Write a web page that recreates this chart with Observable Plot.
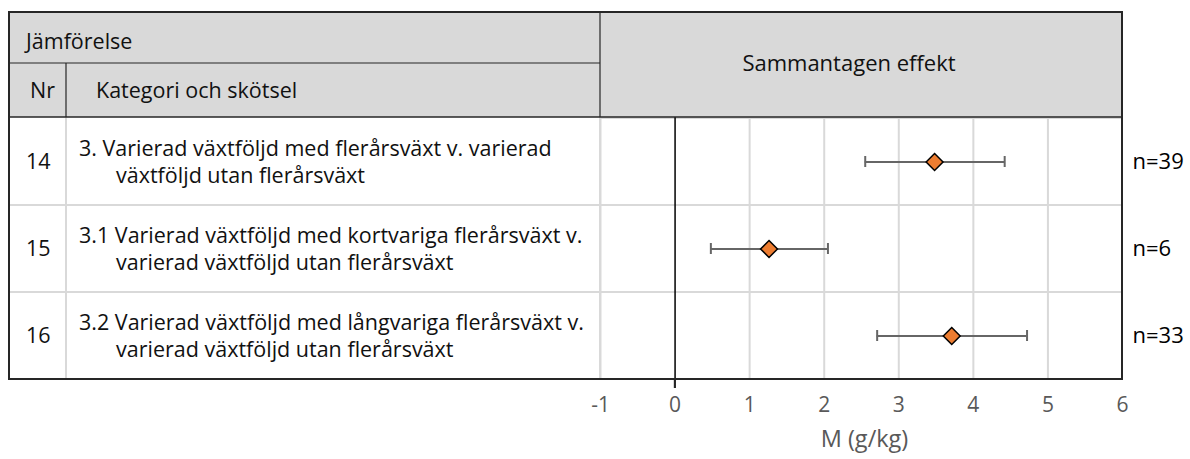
<!DOCTYPE html>
<html><head><meta charset="utf-8">
<script src="https://cdn.jsdelivr.net/npm/d3@7"></script>
<script src="https://cdn.jsdelivr.net/npm/@observablehq/plot@0.6"></script>
<style>
body{margin:0;background:#fff;}
#chart svg{font-family:"Open Sans",sans-serif;overflow:visible;}
</style></head><body><div id="chart"></div>
<script>
const nr = ["14", "15", "16"];
const categoryLine1 = [
  "3. Varierad växtföljd med flerårsväxt v. varierad",
  "3.1 Varierad växtföljd med kortvariga flerårsväxt v.",
  "3.2 Varierad växtföljd med långvariga flerårsväxt v."
];
const categoryLine2 = [
  "växtföljd utan flerårsväxt",
  "varierad växtföljd utan flerårsväxt",
  "varierad växtföljd utan flerårsväxt"
];
const estimate = [3.48, 1.26, 3.71];
const ciLow = [2.55, 0.48, 2.71];
const ciHigh = [4.42, 2.05, 4.72];
const nLabel = ["n=39", "n=6", "n=33"];
const xTicks = [-1, 0, 1, 2, 3, 4, 5, 6];
const headerGroup = "Jämförelse";
const headerNr = "Nr";
const headerCategory = "Kategori och skötsel";
const headerEffect = "Sammantagen effekt";
const xLabel = "M (g/kg)";

const rows = nr.map((n, i) => ({
  nr: n, line1: categoryLine1[i], line2: categoryLine2[i],
  est: estimate[i], lo: ciLow[i], hi: ciHigh[i], n: nLabel[i]
}));

const W = 1190, H = 459;
const mL = 600, mR = 68, mT = 117, mB = 80;
const tableLeft = 9, tableTop = 12, headerMid = 63, nrCol = 66;
const gridColor = "#d9d9d9", borderColor = "#262626";
const tableFont = 21.5;

const plot = Plot.plot({
  width: W, height: H,
  marginLeft: mL, marginRight: mR, marginTop: mT, marginBottom: mB,
  style: {fontFamily: "'Open Sans', sans-serif", fontSize: "21px", color: "#000"},
  x: {domain: [-1, 6], ticks: xTicks},
  y: {domain: nr, padding: 0, axis: null},
  marks: [
    Plot.gridX(xTicks.filter(d => d !== 0 && d !== 6), {stroke: gridColor, strokeOpacity: 1, strokeWidth: 2}),
    Plot.barX(rows, {x1: -1, x2: 6, y: "nr", fill: "none", stroke: gridColor, strokeWidth: 2}),
    Plot.ruleX([0], {stroke: "#000", strokeWidth: 1.5, insetBottom: -9}),
    Plot.ruleY(rows, {x1: "lo", x2: "hi", y: "nr", stroke: "#666", strokeWidth: 2}),
    Plot.tickX(rows, {x: "lo", y: "nr", stroke: "#666", strokeWidth: 2, insetTop: 38, insetBottom: 38}),
    Plot.tickX(rows, {x: "hi", y: "nr", stroke: "#666", strokeWidth: 2, insetTop: 38, insetBottom: 38}),
    Plot.dot(rows, {x: "est", y: "nr", symbol: "diamond2", r: 7.6, fill: "#ed7d31", stroke: "#000", strokeWidth: 1.5}),
    Plot.text(rows, {y: "nr", text: "n", frameAnchor: "right", dx: 10, textAnchor: "start", fontSize: 22, fill: "#000"}),
    Plot.axisX(xTicks, {tickSize: 0, tickPadding: 18, fontSize: 21, fill: "#595959", label: null, tickFormat: d => String(d)}),
    Plot.text([xLabel], {frameAnchor: "bottom", dy: 67, dx: 3, fontSize: 23.5, fill: "#595959"})
  ]
});
document.getElementById("chart").appendChild(plot);

// Left-hand table and header, positioned from the plot's own y scale
const svg = d3.select(plot);
const y = plot.scale("y");
const bw = y.bandwidth;
const yTop = mT, yBottom = H - mB, xRight = W - mR;
const g = svg.append("g").attr("font-family", "'Open Sans', sans-serif");

// header background
g.append("rect").attr("x", tableLeft).attr("y", tableTop)
  .attr("width", xRight - tableLeft).attr("height", yTop - tableTop)
  .attr("fill", "#d9d9d9");

// row dividers in the left table
nr.forEach((r, i) => {
  const y0 = y.apply(r);
  if (i > 0) g.append("line").attr("x1", tableLeft).attr("x2", mL).attr("y1", y0).attr("y2", y0)
    .attr("stroke", gridColor).attr("stroke-width", 2);
});
g.append("line").attr("x1", nrCol).attr("x2", nrCol).attr("y1", yTop).attr("y2", yBottom)
  .attr("stroke", gridColor).attr("stroke-width", 2);
g.append("line").attr("x1", mL).attr("x2", mL).attr("y1", yTop).attr("y2", yBottom)
  .attr("stroke", gridColor).attr("stroke-width", 2);

const dark = (x1, y1, x2, y2, w = 1.5) => g.append("line").attr("x1", x1).attr("y1", y1).attr("x2", x2).attr("y2", y2)
  .attr("stroke", borderColor).attr("stroke-width", w);
dark(tableLeft, headerMid, mL, headerMid, 1.2);
dark(nrCol, headerMid, nrCol, yTop, 1.2);
dark(mL, tableTop, mL, yTop, 1.2);
dark(tableLeft, yTop, xRight, yTop, 1.5);
g.append("rect").attr("x", tableLeft).attr("y", tableTop)
  .attr("width", xRight - tableLeft).attr("height", yBottom - tableTop)
  .attr("fill", "none").attr("stroke", borderColor).attr("stroke-width", 2);
const x0 = plot.scale("x").apply(0);
dark(x0, yBottom, x0, yBottom + 9, 1.5);

const txt = (s, x, yy, opts = {}) => g.append("text").attr("x", x).attr("y", yy)
  .attr("dy", "0.35em").attr("font-size", opts.size || tableFont)
  .attr("text-anchor", opts.anchor || "start").attr("fill", "#111").text(s);

txt(headerGroup, 26, 41);
txt(headerNr, 30, 90);
txt(headerCategory, 96, 90);
txt(headerEffect, (mL + xRight) / 2 - 12, 63, {anchor: "middle", size: 22});

rows.forEach(d => {
  const c = y.apply(d.nr) + bw / 2;
  txt(d.nr, 26, c);
  txt(d.line1, 79, c - 13);
  txt(d.line2, 116, c + 14);
});
</script></body></html>
